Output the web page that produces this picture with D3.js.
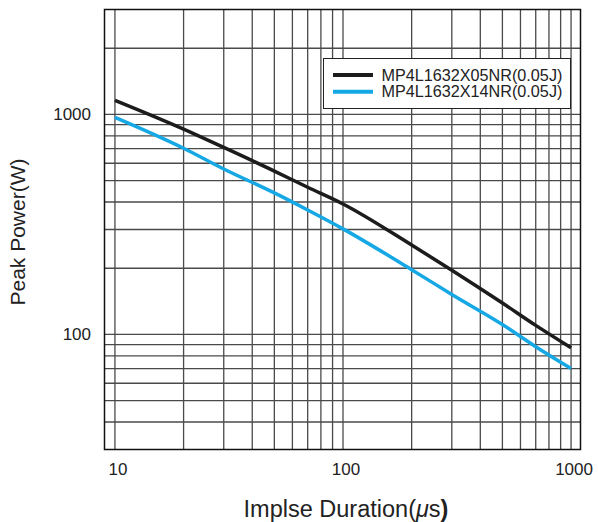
<!DOCTYPE html>
<html>
<head>
<meta charset="utf-8">
<script src="https://cdn.jsdelivr.net/npm/d3@7"></script>
<style>
  body { margin: 0; background: #fff; }
  text { font-family: "Liberation Sans", Arial, sans-serif; fill: #222; }
</style>
</head>
<body>
<script>
// data
var durations = [10, 20, 30, 50, 70, 100, 200, 300, 500, 700, 1000];
var power05 = [1160, 858, 708, 553, 467, 392, 255, 196, 139, 110, 87];
var power14 = [970, 702, 565, 440, 368, 302, 197, 152, 111, 88, 70];
var seriesNames = ["MP4L1632X05NR(0.05J)", "MP4L1632X14NR(0.05J)"];
var seriesColours = ["#1c1c1c", "#15a8e4"];
var xTicks = [10, 100, 1000];
var yTicks = [100, 1000];
var xGrid = [10, 20, 30, 40, 50, 60, 70, 80, 90, 100, 200, 300, 400, 500, 600, 700, 800, 900, 1000];
var yGrid = [40, 50, 60, 70, 80, 90, 100, 200, 300, 400, 500, 600, 700, 800, 900, 1000, 2000];

var w = 598;
var h = 522;
// plot box (named so they don't clash with window.top)
var plotL = 104.5, plotR = 580.5, plotT = 9.5, plotB = 449.5;

var svg = d3.select("body")
  .append("svg")
  .attr("width", w)
  .attr("height", h);

var xScale = d3.scaleLog()
  .domain([9, 1100])
  .range([plotL, plotR]);

var yScale = d3.scaleLog()
  .domain([30, 3000])
  .range([plotB, plotT]);

// grid
svg.append("g")
  .selectAll("line")
  .data(xGrid)
  .enter().append("line")
  .attr("x1", function(d) { return xScale(d); })
  .attr("x2", function(d) { return xScale(d); })
  .attr("y1", plotT)
  .attr("y2", plotB)
  .attr("stroke", "#4a4a4a")
  .attr("stroke-width", 1.3);

svg.append("g")
  .selectAll("line")
  .data(yGrid)
  .enter().append("line")
  .attr("x1", plotL)
  .attr("x2", plotR)
  .attr("y1", function(d) { return yScale(d); })
  .attr("y2", function(d) { return yScale(d); })
  .attr("stroke", "#4a4a4a")
  .attr("stroke-width", 1.3);

// frame
svg.append("rect")
  .attr("x", plotL)
  .attr("y", plotT)
  .attr("width", plotR - plotL)
  .attr("height", plotB - plotT)
  .attr("fill", "none")
  .attr("stroke", "#111")
  .attr("stroke-width", 1.5);

// curves
var line = d3.line()
  .x(function(d) { return xScale(d[0]); })
  .y(function(d) { return yScale(d[1]); })
  .curve(d3.curveMonotoneX);

[power05, power14].forEach(function(vals, i) {
  svg.append("path")
    .datum(durations.map(function(d, j) { return [d, vals[j]]; }))
    .attr("d", line)
    .attr("fill", "none")
    .attr("stroke", seriesColours[i])
    .attr("stroke-width", 3.5);
});

// tick labels
svg.append("g")
  .selectAll("text")
  .data(xTicks)
  .enter().append("text")
  .attr("x", function(d) { return xScale(d) + 3; })
  .attr("y", 475)
  .attr("text-anchor", "middle")
  .style("font-size", "17px")
  .text(function(d) { return d; });

svg.append("g")
  .selectAll("text")
  .data(yTicks)
  .enter().append("text")
  .attr("x", 91)
  .attr("y", function(d) { return yScale(d) + 6; })
  .attr("text-anchor", "end")
  .style("font-size", "17px")
  .text(function(d) { return d; });

// axis titles
var xt = svg.append("text")
  .attr("x", 346)
  .attr("y", 516.5)
  .attr("text-anchor", "middle")
  .style("font-size", "23.5px");
xt.append("tspan").text("Implse Duration(");
xt.append("tspan").style("font-style", "italic").text("\u03bc");
xt.append("tspan").text("s");
xt.append("tspan").style("font-weight", "bold").text(")");

svg.append("text")
  .attr("transform", "translate(25,232) rotate(-90)")
  .attr("text-anchor", "middle")
  .style("font-size", "21px")
  .text("Peak Power(W)");

// legend
var legend = svg.append("g");
legend.append("rect")
  .attr("x", 323.5)
  .attr("y", 58.5)
  .attr("width", 247)
  .attr("height", 50)
  .attr("fill", "#fff")
  .attr("stroke", "#222")
  .attr("stroke-width", 1);

seriesNames.forEach(function(name, i) {
  var ly = 75 + i * 16.7;
  legend.append("line")
    .attr("x1", 333)
    .attr("x2", 373)
    .attr("y1", ly)
    .attr("y2", ly)
    .attr("stroke", seriesColours[i])
    .attr("stroke-width", 4);
  legend.append("text")
    .attr("x", 381.5)
    .attr("y", ly + 5.5)
    .style("font-size", "16.2px")
    .text(name);
});
</script>
</body>
</html>
